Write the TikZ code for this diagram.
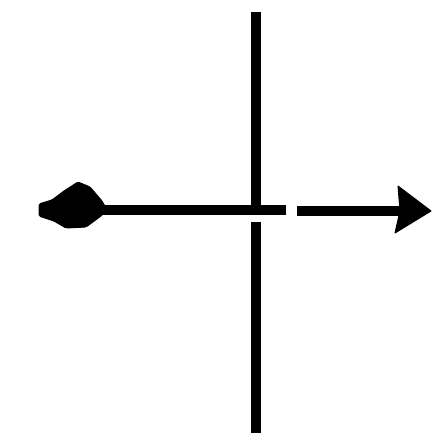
\documentclass[tikz,border=0pt]{standalone}
\begin{document}
\begin{tikzpicture}[x=1pt,y=-1pt,
  stroke/.style={line width=10pt,line cap=butt,black},
  headfill/.style={fill=black,draw=black,line width=1pt,line join=round}]
\useasboundingbox (0,0) rectangle (439,444);
\coordinate (vtop) at (256,12);
\coordinate (vmidA) at (256,208);
\coordinate (vmidB) at (256,222);
\coordinate (vbot) at (256,433);
\coordinate (hleft) at (42,210);
\coordinate (hmidA) at (286,210);
\coordinate (hmidB) at (297,211);
\coordinate (hright) at (405,211);
% vertical line
\draw[stroke] (vtop) -- (vmidA);
\draw[stroke] (vmidB) -- (vbot);
% horizontal line
\draw[stroke] (hleft) -- (hmidA);
\draw[stroke] (hmidB) -- (hright);
% left arrowhead (kite)
\fill[headfill,rounded corners=1.5pt] (39,204) -- (39,216) -- (54,221) -- (66,228) -- (86,227) -- (101,216) -- (107,210) -- (102,201) -- (90,187) -- (78,182) -- (64,191) -- (52,200) -- cycle;
% right arrowhead
\fill[headfill] (398,186) -- (431,211) -- (395,233) -- (400,211) -- cycle;
\end{tikzpicture}
\end{document}
